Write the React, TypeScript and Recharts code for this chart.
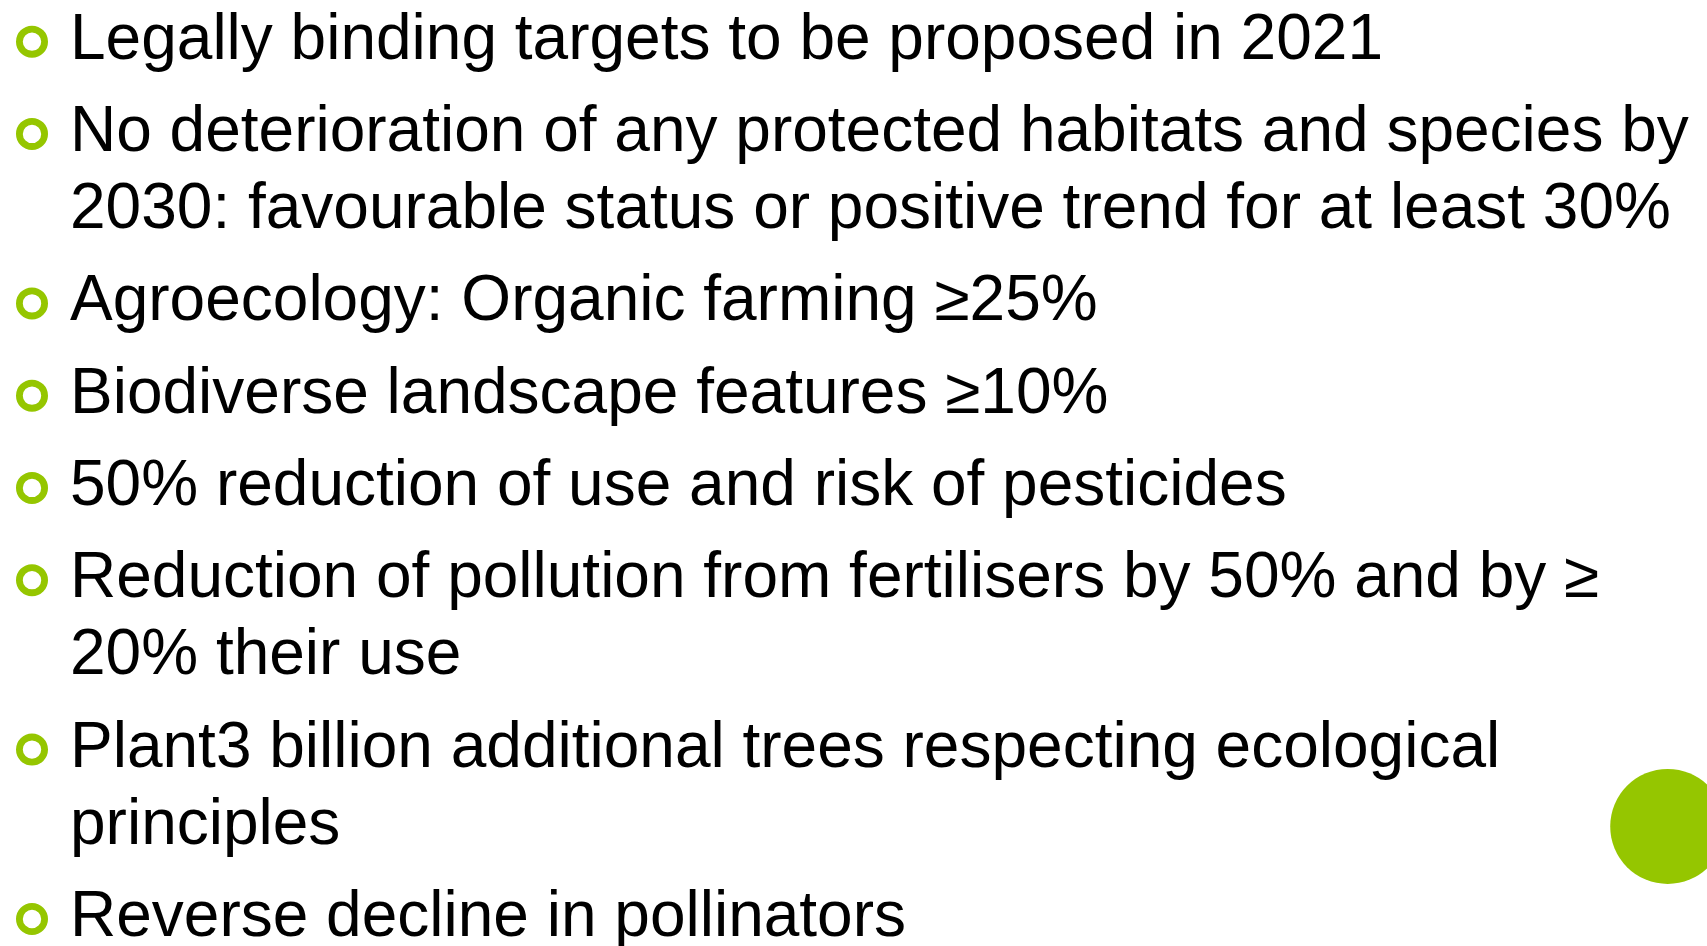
import { ScatterChart, Scatter, XAxis, YAxis, ReferenceDot } from 'recharts'

// slide bullets, one inner array per bullet (wrapped lines kept as in the slide)
const bullets: string[][] = [
  ['Legally binding targets to be proposed in 2021'],
  [
    'No deterioration of any protected habitats and species by',
    '2030: favourable status or positive trend for at least 30%',
  ],
  ['Agroecology: Organic farming ≥25%'],
  ['Biodiverse landscape features ≥10%'],
  ['50% reduction of use and risk of pesticides'],
  ['Reduction of pollution from fertilisers by 50% and by ≥', '20% their use'],
  ['Plant3 billion additional trees respecting ecological', 'principles'],
  ['Reverse decline in pollinators'],
]

const GREEN = '#95C600'
const PARA_GAP = 1.195 // in line-heights

interface Row {
  x: number
  y: number
  text: string
  first: boolean
}

const rows: Row[] = []
let pos = 0
bullets.forEach((lines, i) => {
  if (i > 0) pos += PARA_GAP
  lines.forEach((text, j) => {
    if (j > 0) pos += 1
    rows.push({ x: 0, y: pos, text, first: j === 0 })
  })
})

function LineShape(props: any) {
  const { cx, cy, payload } = props
  return (
    <g>
      {payload.first && (
        <circle cx={cx - 38} cy={cy - 17} r={12.6} fill="none" stroke={GREEN} strokeWidth={6.8} />
      )}
      <text
        x={cx}
        y={cy}
        fill="#000"
        fontSize={64}
        fontFamily="'Liberation Sans', Arial, sans-serif"
      >
        {payload.text}
      </text>
    </g>
  )
}

export default function App() {
  return (
    <div style={{ position: 'absolute', left: 0, top: 0, width: 1707, height: 946, background: '#fff' }}>
      <ScatterChart width={1707} height={946} margin={{ top: 0, right: 0, bottom: 0, left: 70 }}>
        <XAxis type="number" dataKey="x" domain={[0, 1]} hide />
        <YAxis type="number" dataKey="y" domain={[-0.76, 11.494]} reversed hide />
        <ReferenceDot x={0.976} y={9.946} r={57.5} fill={GREEN} stroke="none" ifOverflow="visible" />
        <Scatter data={rows} shape={LineShape} isAnimationActive={false} />
      </ScatterChart>
    </div>
  )
}
